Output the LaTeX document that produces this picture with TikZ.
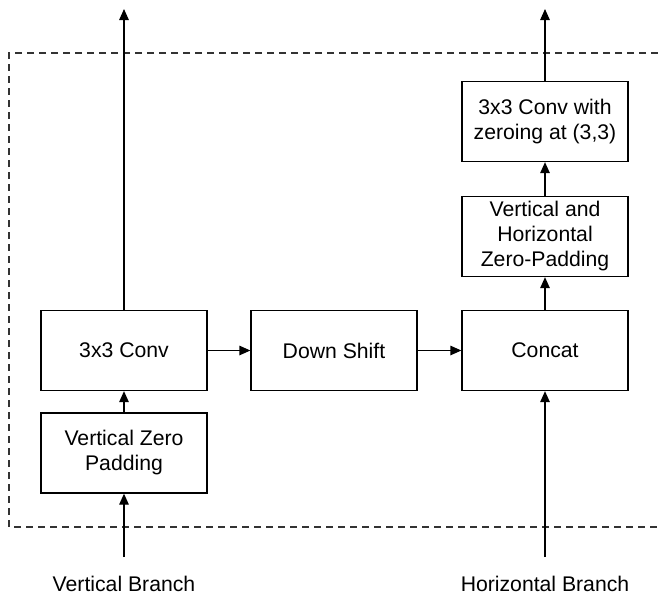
\documentclass[tikz,border=0pt]{standalone}
\usepackage{fontspec}
\setmainfont{Liberation Sans}
\usetikzlibrary{arrows.meta}
\begin{document}
\begin{tikzpicture}[x=1pt,y=-1pt,
  blk/.style={draw=black,line width=1.3pt,minimum width=166pt,minimum height=80pt,inner sep=0pt,align=center,font=\fontsize{21.2}{25}\selectfont},
  lbl/.style={font=\fontsize{21.2}{25}\selectfont,inner sep=0pt,anchor=base},
  conn/.style={line width=1.3pt,-{Triangle[length=11pt,width=9.5pt]}},
  frame/.style={draw=black!80,line width=1.2pt,dash pattern=on 7pt off 5pt}]
\useasboundingbox (0,0) rectangle (658,595);
\draw[frame] (658,53) -- (9,53) -- (9,527) -- (658,527);
\node[blk] (vzp) at (124,453) {Vertical Zero\\Padding};
\node[blk] (conv) at (124,350.5) {3x3 Conv};
\node[blk] (down) at (334,350.5) {Down Shift};
\node[blk] (concat) at (545,350.5) {Concat};
\node[blk] (vhzp) at (545,236.5) {Vertical and\\Horizontal\\Zero-Padding};
\node[blk] (convz) at (545,121.5) {3x3 Conv with\\zeroing at (3,3)};
\node[lbl] (vb) at (124,591.5) {Vertical Branch};
\node[lbl] (hb) at (545,591.5) {Horizontal Branch};
\coordinate (vin) at (124,557);
\coordinate (hin) at (545,557);
\coordinate (vout) at (124,9);
\coordinate (hout) at (545,9);
\draw[conn] (vin) -- (vzp);
\draw[conn] (vzp) -- (conv);
\draw[conn] (conv) -- (vout);
\draw[conn] (conv) -- (down);
\draw[conn] (down) -- (concat);
\draw[conn] (hin) -- (concat);
\draw[conn] (concat) -- (vhzp);
\draw[conn] (vhzp) -- (convz);
\draw[conn] (convz) -- (hout);
\end{tikzpicture}
\end{document}
